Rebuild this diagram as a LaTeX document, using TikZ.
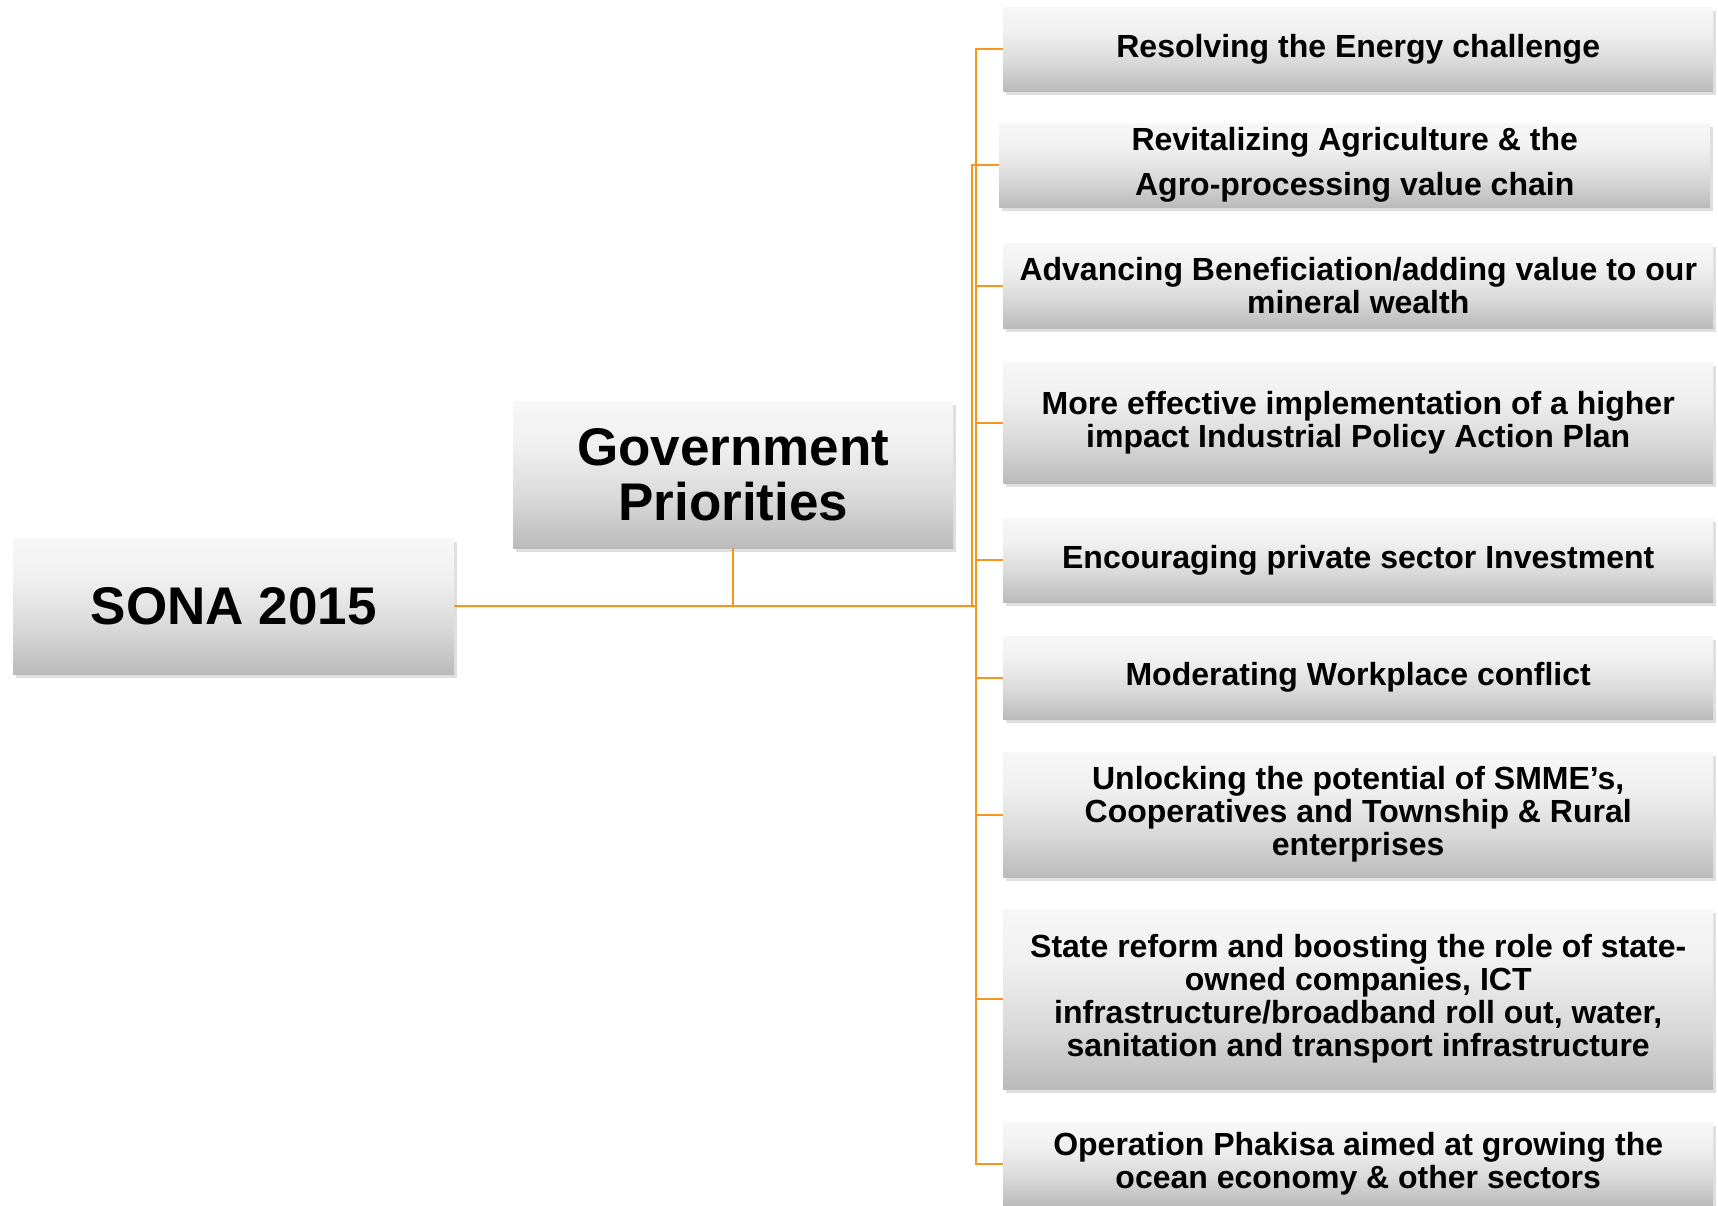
\documentclass[tikz,border=0pt]{standalone}
\usepackage{fontspec}
\setmainfont{Liberation Sans}
\usetikzlibrary{shadows}
\definecolor{connc}{RGB}{247,150,30}
\pgfdeclareverticalshading{boxshade}{100bp}{color(0bp)=(black!27); color(25bp)=(black!27); color(42bp)=(black!15); color(60bp)=(black!6); color(75bp)=(black!3); color(100bp)=(black!3)}
\begin{document}
\begin{tikzpicture}[x=1pt,y=-1pt,
  box/.style={shading=boxshade, draw=none,
    drop shadow={shadow xshift=2.5pt,shadow yshift=-4pt,opacity=0.25},
    align=center, inner sep=0pt, anchor=north west,
    font=\bfseries\fontsize{32}{33}\selectfont},
  bigbox/.style={box, font=\bfseries\fontsize{53}{55}\selectfont},
  conn/.style={draw=connc, line width=1.6pt}]
\useasboundingbox (0,0) rectangle (1718,1205);
\fill[white] (0,0) rectangle (1718,1205);

\node[bigbox, minimum width=441pt, minimum height=136pt] (sona) at (13,538) {SONA 2015};
\node[bigbox, minimum width=440pt, minimum height=147pt] (gov) at (513,401) {Government\\Priorities};

\node[box, minimum width=710pt, minimum height=84pt] (b1) at (1003,7) {Resolving the Energy challenge};
\node[box, minimum width=711pt, minimum height=84pt, font=\bfseries\fontsize{32}{45}\selectfont] (b2) at (999,123) {Revitalizing Agriculture \& the\\Agro-processing value chain};
\node[box, minimum width=710pt, minimum height=85pt] (b3) at (1003,243) {Advancing Beneficiation/adding value to our\\mineral wealth};
\node[box, minimum width=710pt, minimum height=121pt] (b4) at (1003,362) {More effective implementation of a higher\\impact Industrial Policy Action Plan};
\node[box, minimum width=710pt, minimum height=84pt] (b5) at (1003,518) {Encouraging private sector Investment};
\node[box, minimum width=710pt, minimum height=83pt] (b6) at (1003,636) {Moderating Workplace conflict};
\node[box, minimum width=710pt, minimum height=125pt] (b7) at (1003,752) {Unlocking the potential of SMME’s,\\Cooperatives and Township \& Rural\\enterprises};
\node[box, minimum width=710pt, minimum height=180pt] (b8) at (1003,909) {State reform and boosting the role of state-\\owned companies, ICT\\infrastructure/broadband roll out, water,\\sanitation and transport infrastructure};
\node[box, minimum width=710pt, minimum height=84pt] (b9) at (1003,1122) {Operation Phakisa aimed at growing the\\ocean economy \& other sectors};

\coordinate (tk) at (976,606);
\coordinate (tk2) at (972,606);
\draw[conn, line width=2pt] (sona.east) -- (tk);
\draw[conn] (gov.south) -- (gov.south |- sona.east);
\foreach \b in {b1,b3,b4,b5,b6,b7,b8,b9} \draw[conn] (tk) |- (\b.west);
\draw[conn] (tk2) |- (b2.west);
\end{tikzpicture}
\end{document}
